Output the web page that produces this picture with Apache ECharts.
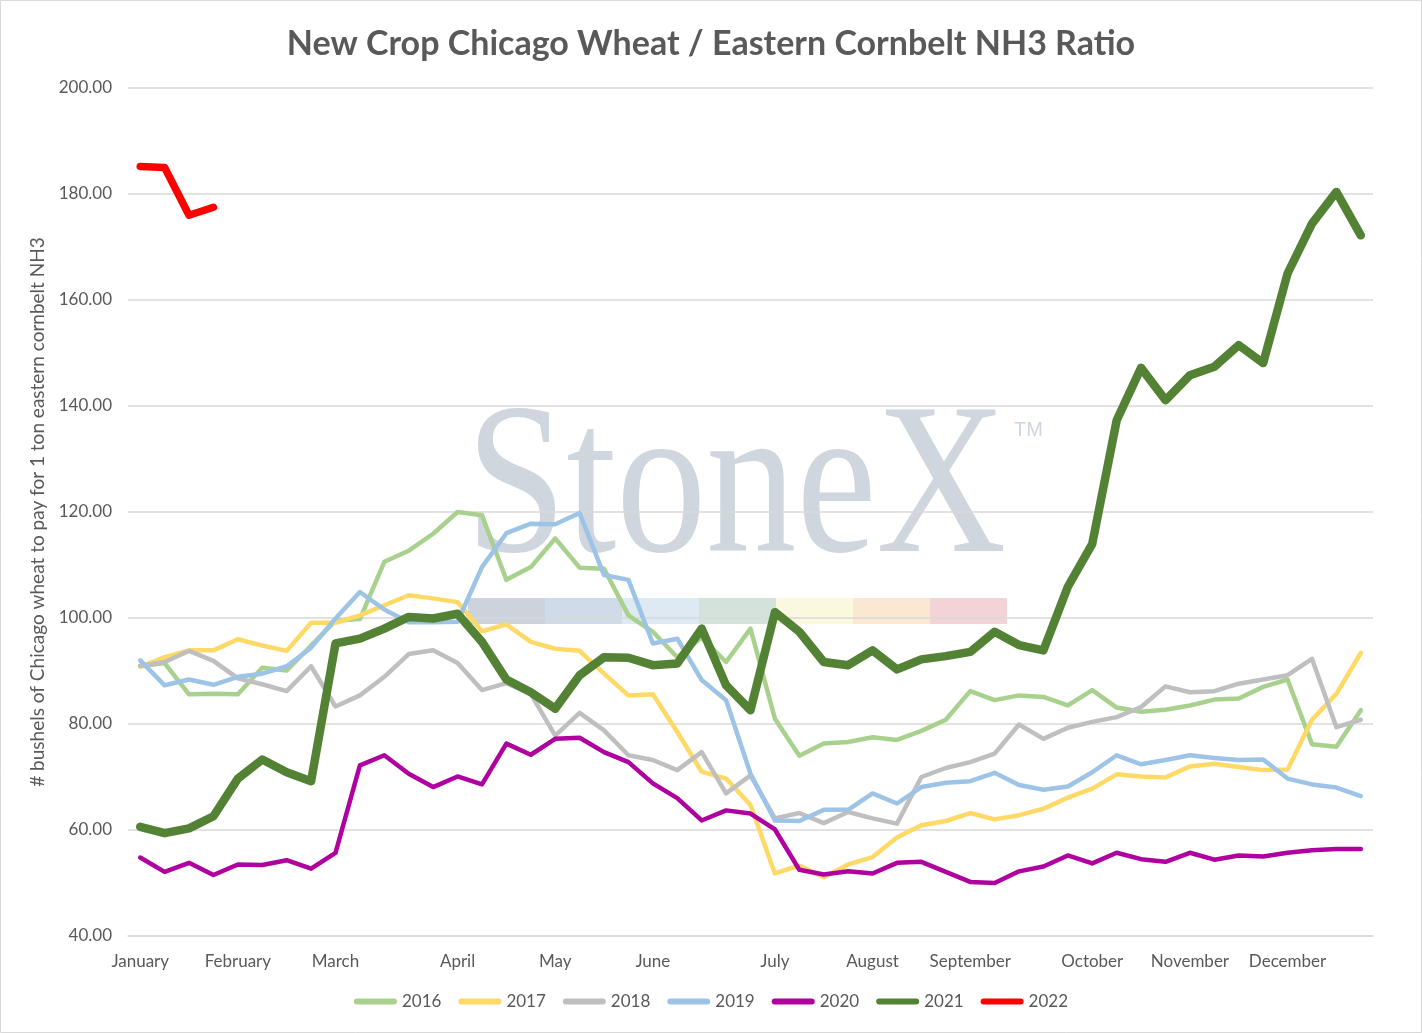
<!DOCTYPE html>
<html>
<head>
<meta charset="utf-8">
<title>New Crop Chicago Wheat / Eastern Cornbelt NH3 Ratio</title>
<script src="https://cdn.jsdelivr.net/npm/echarts@6.0.0/dist/echarts.min.js"></script>
<style>
    html, body { margin: 0; padding: 0; background: #ffffff; }
    #chart { width: 1422px; height: 1033px; }
</style>
</head>
<body>
<div id="chart"></div>
<script>
(function () {
    'use strict';

    // weekly points, Jan -> Dec (51 weeks); month names sit on the week they start
    var months = ['January', 'February', 'March', 'April', 'May', 'June',
        'July', 'August', 'September', 'October', 'November', 'December'];
    var monthWeeks = [0, 4, 8, 13, 17, 21, 26, 30, 34, 39, 43, 47];
    var weekCount = 51;

    var yTicks = [40, 60, 80, 100, 120, 140, 160, 180, 200];

    var years = ['2016', '2017', '2018', '2019', '2020', '2021', '2022'];

    var y2016 = [90.9, 91.5, 85.6, 85.7, 85.6, 90.6, 90.1, 94.8, 99.5, 99.8,
        110.6, 112.7, 115.9, 120.0, 119.4, 107.2, 109.6, 115.0, 109.5, 109.3,
        100.5, 97.4, 92.6, 96.3, 91.7, 98.0, 81.0, 74.0, 76.3, 76.6,
        77.5, 77.0, 78.7, 80.8, 86.2, 84.5, 85.4, 85.1, 83.5, 86.4,
        83.1, 82.3, 82.7, 83.5, 84.6, 84.8, 87.0, 88.4, 76.2, 75.7, 82.6];

    var y2017 = [90.8, 92.6, 93.9, 93.9, 96.0, 94.8, 93.8, 99.1, 99.1, 100.5,
        102.4, 104.3, 103.7, 103.0, 97.5, 98.8, 95.5, 94.2, 93.8, 89.5,
        85.4, 85.6, 78.5, 71.0, 69.7, 64.7, 51.8, 53.3, 51.1, 53.5,
        54.9, 58.6, 60.9, 61.7, 63.2, 62.0, 62.8, 64.0, 66.1, 67.8,
        70.5, 70.1, 69.9, 72.0, 72.5, 71.9, 71.3, 71.4, 80.8, 85.7, 93.4];

    var y2018 = [91.0, 91.7, 93.8, 91.9, 88.6, 87.5, 86.2, 90.9, 83.3, 85.4,
        88.9, 93.2, 93.9, 91.5, 86.4, 87.7, 85.7, 77.8, 82.1, 78.8,
        74.1, 73.2, 71.3, 74.7, 66.9, 70.3, 62.2, 63.2, 61.3, 63.4,
        62.2, 61.2, 70.0, 71.7, 72.8, 74.4, 79.9, 77.2, 79.3, 80.4,
        81.3, 83.2, 87.1, 86.0, 86.2, 87.6, 88.4, 89.2, 92.3, 79.4, 80.8];

    var y2019 = [92.0, 87.3, 88.4, 87.4, 88.9, 89.5, 90.9, 94.4, 99.9, 104.9,
        101.6, 99.2, 99.2, 99.3, 109.6, 116.0, 117.8, 117.7, 119.8, 108.1,
        107.2, 95.2, 96.1, 88.3, 84.5, 70.6, 61.8, 61.7, 63.8, 63.8,
        66.9, 65.0, 68.1, 68.9, 69.2, 70.8, 68.5, 67.6, 68.2, 70.9,
        74.1, 72.4, 73.2, 74.1, 73.6, 73.2, 73.3, 69.7, 68.6, 68.0, 66.4];

    var y2020 = [54.8, 52.1, 53.8, 51.5, 53.5, 53.4, 54.3, 52.7, 55.7, 72.2,
        74.1, 70.6, 68.1, 70.1, 68.6, 76.3, 74.2, 77.2, 77.4, 74.7,
        72.8, 68.8, 66.0, 61.8, 63.7, 63.1, 60.1, 52.5, 51.6, 52.2,
        51.8, 53.8, 54.0, 52.1, 50.2, 50.0, 52.2, 53.1, 55.2, 53.7,
        55.7, 54.5, 54.0, 55.7, 54.4, 55.2, 55.0, 55.7, 56.2, 56.4, 56.4];

    var y2021 = [60.6, 59.4, 60.3, 62.6, 69.7, 73.3, 70.9, 69.2, 95.2, 96.1,
        98.0, 100.2, 99.9, 100.8, 95.5, 88.4, 86.0, 82.9, 89.2, 92.6,
        92.5, 91.1, 91.4, 98.0, 87.3, 82.6, 101.1, 97.4, 91.7, 91.1,
        93.9, 90.3, 92.2, 92.8, 93.6, 97.4, 94.9, 93.9, 105.9, 114.0,
        137.3, 147.2, 141.1, 145.8, 147.4, 151.5, 148.1, 165.0, 174.4, 180.4, 172.2];

    var y2022 = [185.2, 185.0, 176.0, 177.5];

    var colors = ['#a9d18e', '#ffd966', '#bfbfbf', '#9dc3e6', '#b0009f', '#548235', '#ff0000'];
    var widths = [4.5, 4.5, 4.5, 4.5, 4.5, 8.5, 7.5];
    var values = [y2016, y2017, y2018, y2019, y2020, y2021, y2022];

    var categories = [];
    for (var i = 0; i < weekCount; i++) {
        categories.push('');
    }
    for (var m = 0; m < months.length; m++) {
        categories[monthWeeks[m]] = months[m];
    }

    var textGray = '#595959';
    var gridGray = '#d9d9d9';
    var font = 'Lato';

    var series = [];
    for (var s = 0; s < years.length; s++) {
        series.push({
            name: years[s],
            type: 'line',
            data: values[s],
            symbol: 'none',
            smooth: false,
            itemStyle: { color: colors[s] },
            lineStyle: { color: colors[s], width: widths[s], cap: 'round', join: 'round' },
            emphasis: { disabled: true }
        });
    }

    // StoneX watermark behind the plot
    var bandColors = ['#ccd3dc', '#cfdbe8', '#dde9f3', '#d3e2da', '#fbf8e0', '#fbe8d3', '#f2d3d6'];
    var graphics = [{
        type: 'text',
        x: 466,
        y: 494,
        scaleX: 0.834,
        z: -1,
        silent: true,
        style: {
            text: 'StoneX',
            fontFamily: 'Liberation Serif',
            fontSize: 216,
            fill: '#cfd6de',
            align: 'left',
            verticalAlign: 'middle'
        }
    }, {
        type: 'text',
        x: 1014,
        y: 430,
        z: -1,
        silent: true,
        style: {
            text: 'TM',
            fontFamily: 'Liberation Sans',
            fontSize: 20,
            fill: '#cfd6de',
            align: 'left',
            verticalAlign: 'middle'
        }
    }];
    for (var b = 0; b < bandColors.length; b++) {
        graphics.push({
            type: 'rect',
            z: -1,
            silent: true,
            shape: { x: 468 + b * 77, y: 598, width: 77, height: 26 },
            style: { fill: bandColors[b] }
        });
    }
    graphics.push({
        type: 'rect',
        silent: true,
        shape: { x: 0.5, y: 0.5, width: 1421, height: 1032 },
        style: { fill: null, stroke: gridGray, lineWidth: 1 }
    });

    var legendIcon = 'path://M3,0H40A3,3,0,0,1,40,6H3A3,3,0,0,1,3,0Z';

    var myChart = echarts.init(document.getElementById('chart'), null, { renderer: 'canvas' });

    myChart.setOption({
        animation: false,
        backgroundColor: '#ffffff',
        color: colors,
        title: {
            text: 'New Crop Chicago Wheat / Eastern Cornbelt NH3 Ratio',
            left: 'center',
            top: 22,
            textStyle: {
                fontFamily: font,
                fontWeight: 'bold',
                fontSize: 34,
                color: textGray
            }
        },
        legend: {
            data: years.map(function (y) { return { name: y, icon: legendIcon }; }),
            left: 'center',
            top: 988,
            itemWidth: 43,
            itemHeight: 6,
            itemGap: 17,
            textStyle: { fontFamily: font, fontSize: 17, color: textGray }
        },
        grid: {
            left: 128,
            right: 49,
            top: 88,
            bottom: 97,
            containLabel: false,
            outerBoundsMode: 'none'
        },
        xAxis: {
            type: 'category',
            data: categories,
            boundaryGap: true,
            axisLine: { show: true, lineStyle: { color: gridGray, width: 1.5 } },
            axisTick: { show: false },
            axisLabel: {
                interval: 0,
                margin: 17,
                fontFamily: font,
                fontSize: 17,
                color: textGray
            },
            splitLine: { show: false }
        },
        yAxis: {
            type: 'value',
            min: yTicks[0],
            max: yTicks[yTicks.length - 1],
            interval: yTicks[1] - yTicks[0],
            name: '# bushels of Chicago wheat to pay for 1 ton eastern cornbelt NH3',
            nameLocation: 'middle',
            nameGap: 77,
            nameTextStyle: { fontFamily: font, fontSize: 19, color: textGray },
            axisLine: { show: false },
            axisTick: { show: false },
            axisLabel: {
                margin: 16,
                fontFamily: font,
                fontSize: 17,
                color: textGray,
                formatter: function (v) { return v.toFixed(2); }
            },
            splitLine: { lineStyle: { color: gridGray, width: 1.5 } }
        },
        graphic: graphics,
        series: series
    });
}());
</script>
</body>
</html>
